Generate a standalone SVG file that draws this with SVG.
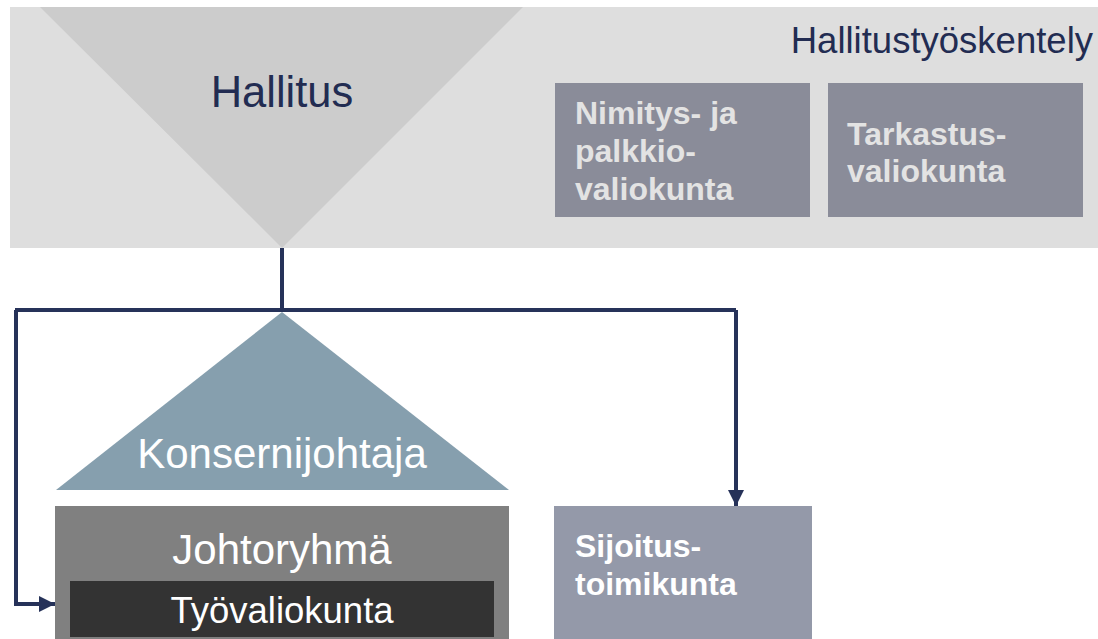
<svg xmlns="http://www.w3.org/2000/svg" width="1098" height="639" viewBox="0 0 1098 639">
<defs>
<style>
text{font-family:"Liberation Sans",Arial,sans-serif}
.navy{fill:#222c52}
.wt{fill:#ffffff}
.bold{font-weight:bold}
.conn{fill:none;stroke:#263259;stroke-width:4}
</style>
<marker id="ah" viewBox="0 0 10 10" refX="10" refY="5" markerWidth="4" markerHeight="4" markerUnits="strokeWidth" orient="auto">
<path d="M0,0 L10,5 L0,10 z" fill="#263259"/>
</marker>
</defs>
<rect width="1098" height="639" fill="#ffffff"/>
<g id="hallitustyoskentely">
<rect x="10" y="7" width="1088" height="241" fill="#dedede"/>
<text x="1093" y="53" font-size="36.5" text-anchor="end" class="navy">Hallitustyöskentely</text>
</g>
<g id="hallitus">
<polygon points="40,7 523,7 282,248" fill="#cccccc"/>
<text x="282" y="107" font-size="43.5" text-anchor="middle" class="navy">Hallitus</text>
</g>
<g id="nimitys">
<rect x="555" y="83" width="255" height="134" fill="#8a8c99"/>
<text font-size="32" class="bold" fill="#e3e3e3"><tspan x="575" y="124">Nimitys- ja</tspan><tspan x="575" y="162">palkkio-</tspan><tspan x="575" y="200">valiokunta</tspan></text>
</g>
<g id="tarkastus">
<rect x="828" y="83" width="255" height="134" fill="#8a8c99"/>
<text font-size="32" class="bold" fill="#e3e3e3"><tspan x="847" y="145">Tarkastus-</tspan><tspan x="847" y="182">valiokunta</tspan></text>
</g>
<g id="connectors">
<path class="conn" d="M282,248 V310"/>
<path class="conn" d="M15,310 H736"/>
<path class="conn" d="M16,310 V604 H55" marker-end="url(#ah)"/>
<path class="conn" d="M736,310 V506" marker-end="url(#ah)"/>
</g>
<g id="konsernijohtaja">
<polygon points="282,312 509,490 56,490" fill="#869fae"/>
<text x="282" y="468" font-size="42" text-anchor="middle" class="wt">Konsernijohtaja</text>
</g>
<g id="johtoryhma">
<rect x="55" y="506" width="454" height="133" fill="#808080"/>
<text x="282" y="564" font-size="42" text-anchor="middle" class="wt">Johtoryhmä</text>
</g>
<g id="tyovaliokunta">
<rect x="70" y="581" width="424" height="56" fill="#333333"/>
<text x="282" y="623" font-size="36.5" text-anchor="middle" class="wt">Työvaliokunta</text>
</g>
<g id="sijoitustoimikunta">
<rect x="554" y="506" width="258" height="133" fill="#9499a9"/>
<text font-size="32" class="bold wt"><tspan x="575" y="557">Sijoitus-</tspan><tspan x="575" y="595">toimikunta</tspan></text>
</g>
</svg>
